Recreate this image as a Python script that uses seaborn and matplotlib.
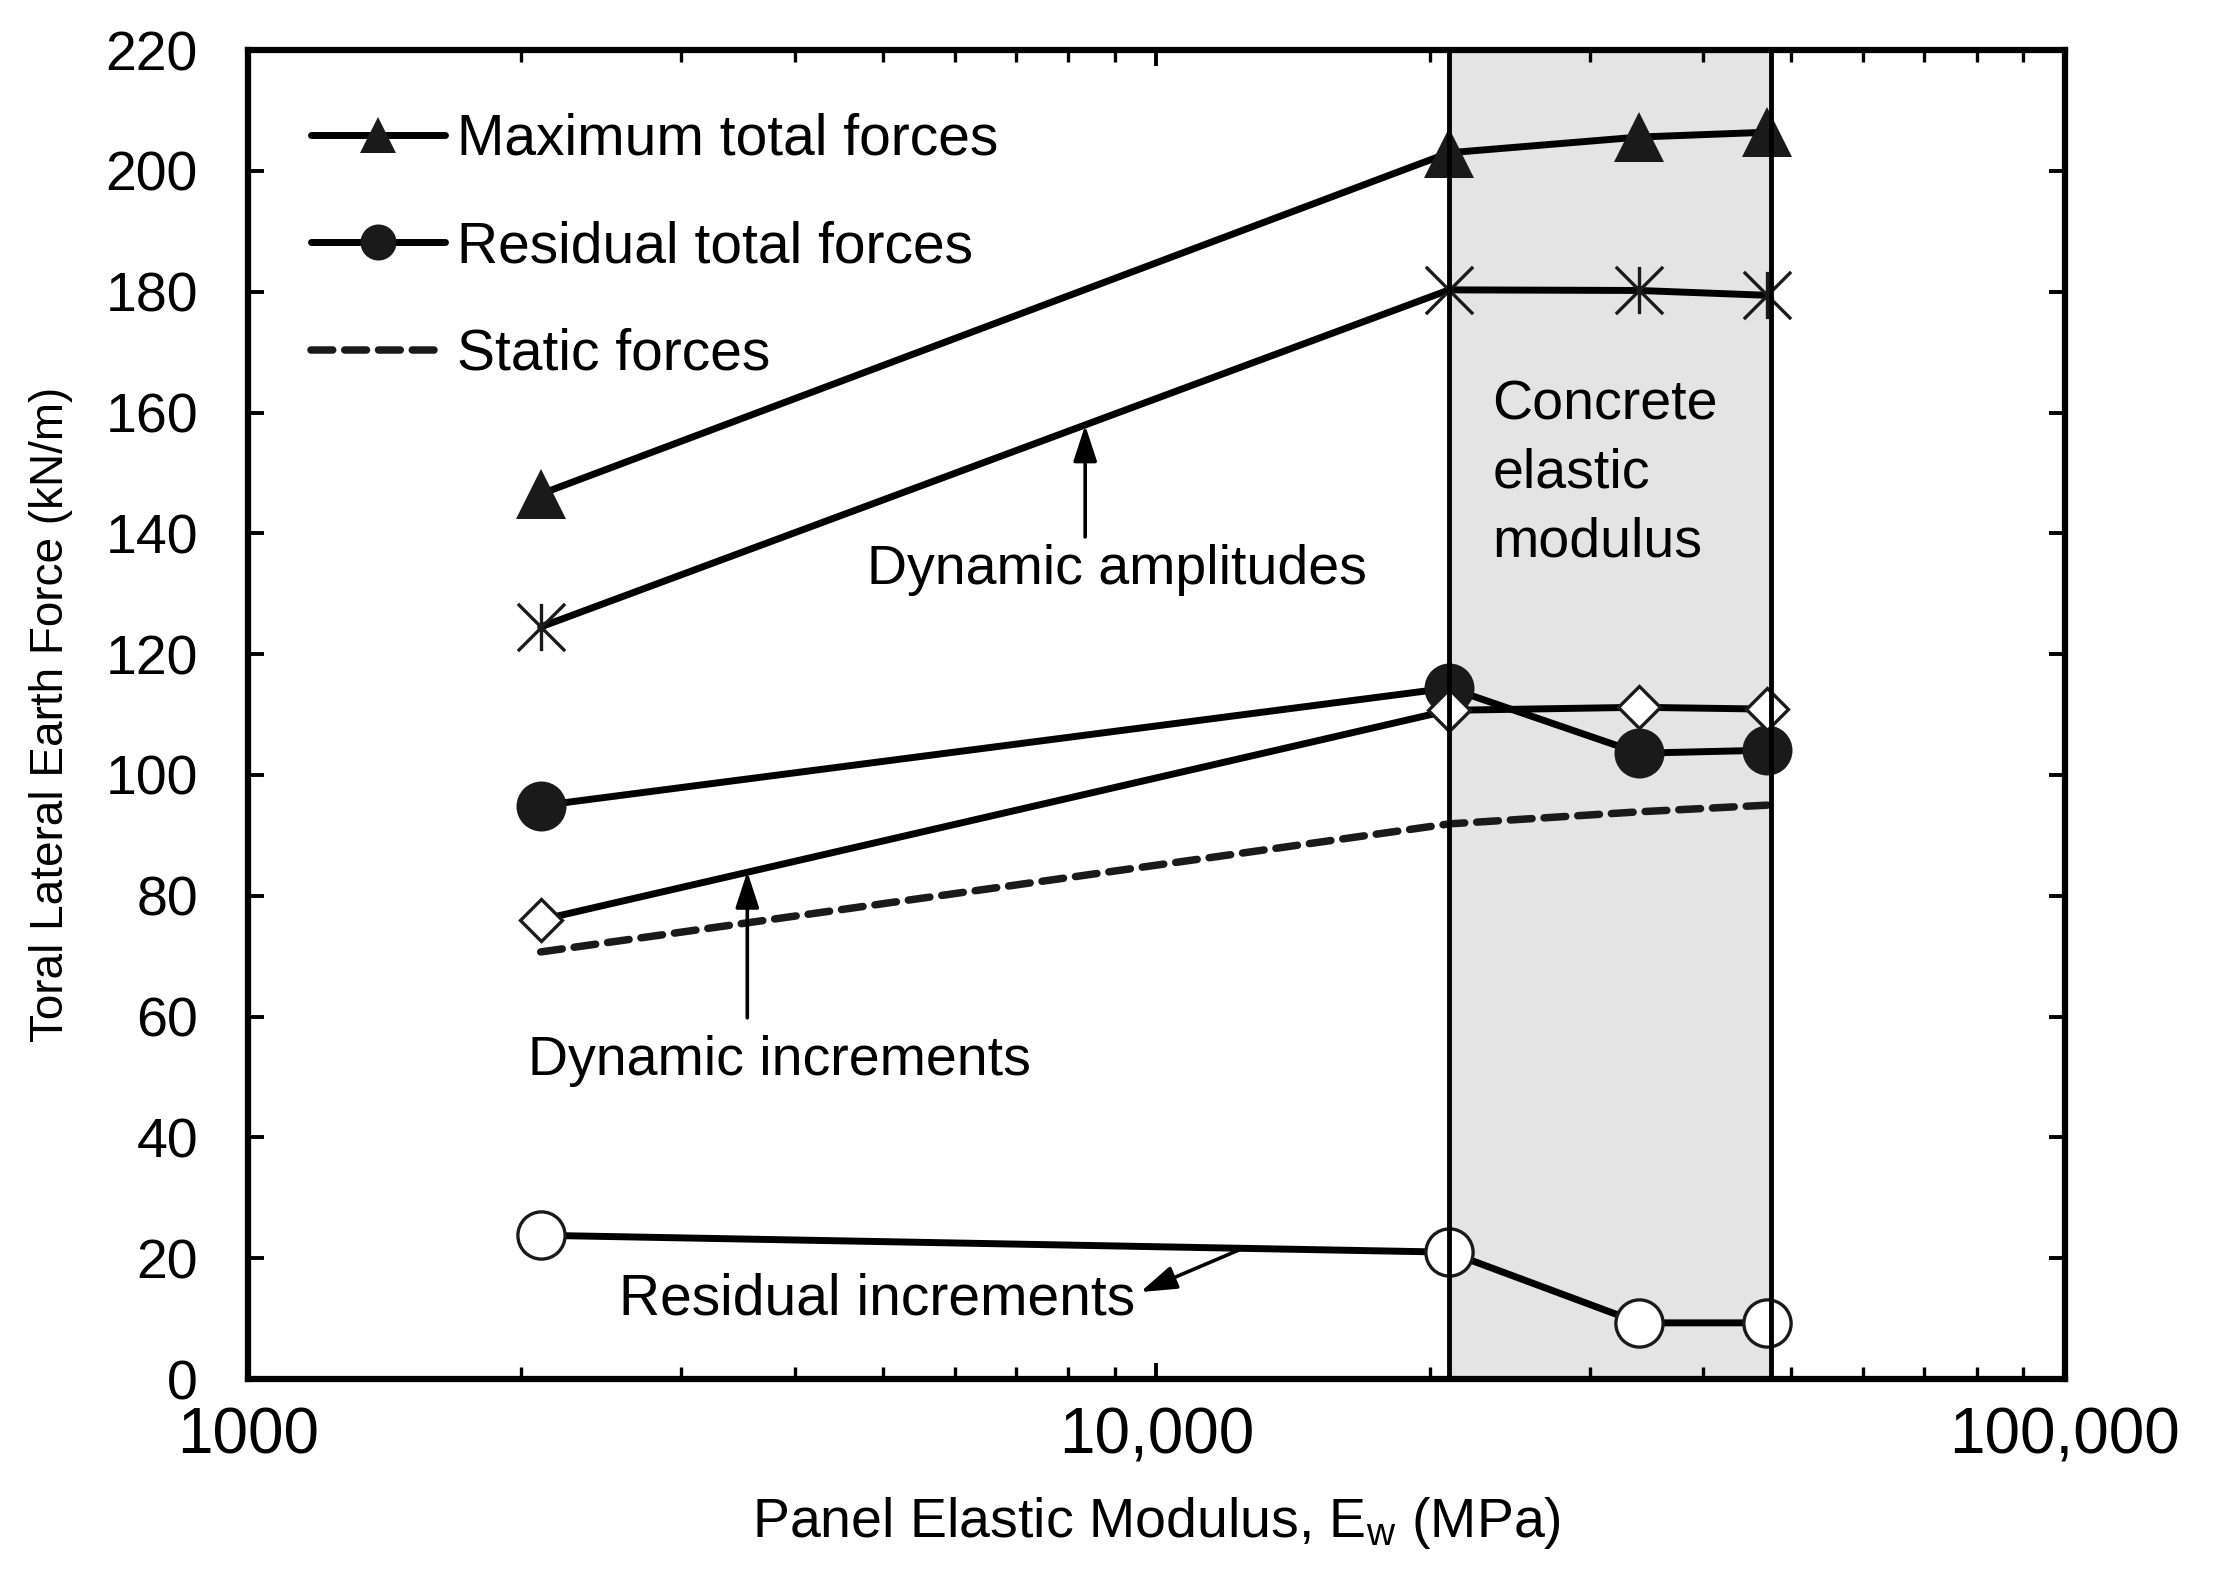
import numpy as np
import pandas as pd
import matplotlib
matplotlib.use("Agg")
import matplotlib.pyplot as plt
from matplotlib.path import Path
from matplotlib.ticker import LogLocator, NullFormatter, FixedLocator
import seaborn as sns

# ---------------- data ----------------
modulus = [2100, 21000, 34000, 47000]
max_total = [146.5, 203.0, 205.6, 206.4]
dyn_amp = [124.5, 180.3, 180.2, 179.4]
res_total = [94.9, 114.4, 103.6, 104.1]
dyn_inc = [76.0, 110.7, 111.2, 110.9]
static = [70.7, 91.9, 93.9, 95.0]
res_inc = [23.8, 21.0, 9.3, 9.3]

concrete_range = [21000, 47500]
x_ticks = [1000, 10000, 100000]
x_tick_labels = ["1000", "10,000", "100,000"]
y_ticks = list(range(0, 221, 20))

legend_labels = ["Maximum total forces", "Residual total forces", "Static forces"]

# ---------------- style ----------------
sns.set_style("ticks")
plt.rcParams["font.family"] = ["Liberation Sans", "DejaVu Sans"]
plt.rcParams["mathtext.fontset"] = "custom"
plt.rcParams["mathtext.rm"] = "Liberation Sans"
plt.rcParams["mathtext.it"] = "Liberation Sans"
for key in ["text.color", "axes.labelcolor", "xtick.color", "ytick.color", "axes.edgecolor"]:
    plt.rcParams[key] = "black"

fig = plt.figure(figsize=(22.18, 15.84), dpi=100)
ax = fig.add_axes([0.1118, 0.1294, 0.8192, 0.8390])

K = "#000000"
MK = "#1a1a1a"
LW = 5.0

ast_path = Path(
    [(-1, -1), (1, 1), (-1, 1), (1, -1), (0, -1), (0, 1)],
    [Path.MOVETO, Path.LINETO, Path.MOVETO, Path.LINETO, Path.MOVETO, Path.LINETO],
)

# shaded concrete region
ax.axvspan(concrete_range[0], concrete_range[1], facecolor="#e4e4e4",
           edgecolor="none", zorder=0)
ax.axvspan(concrete_range[0], concrete_range[1], facecolor="none",
           edgecolor=K, lw=3.5, zorder=6)

sns.lineplot(x=modulus, y=max_total, ax=ax, color=K, lw=LW, marker="^",
             markersize=36, markerfacecolor=MK, markeredgecolor=MK,
             markeredgewidth=0, label=legend_labels[0], legend=False, zorder=4)
sns.lineplot(x=modulus, y=dyn_amp, ax=ax, color=K, lw=LW, marker=ast_path,
             markersize=34, markerfacecolor="none", markeredgecolor=MK,
             markeredgewidth=2.4, legend=False, zorder=4)
sns.lineplot(x=modulus, y=res_total, ax=ax, color=K, lw=LW, marker="o",
             markersize=36, markerfacecolor=MK, markeredgecolor=MK,
             markeredgewidth=0, label=legend_labels[1], legend=False, zorder=4)
sns.lineplot(x=modulus, y=dyn_inc, ax=ax, color=K, lw=LW, marker="D",
             markersize=21, markerfacecolor="white", markeredgecolor=MK,
             markeredgewidth=2.4, legend=False, zorder=4)
sns.lineplot(x=modulus, y=static, ax=ax, color=MK, lw=5.4,
             linestyle=(0, (2.9, 1.6)), dash_capstyle="round",
             label=legend_labels[2], legend=False, zorder=3)
sns.lineplot(x=modulus, y=res_inc, ax=ax, color=K, lw=LW, marker="o",
             markersize=34, markerfacecolor="white", markeredgecolor=MK,
             markeredgewidth=2.4, legend=False, zorder=4)

# ---------------- axes ----------------
ax.set_xscale("log")
ax.set_xlim(1000, 100000)
ax.set_ylim(0, 220)
ax.xaxis.set_major_locator(FixedLocator(x_ticks))
ax.set_xticklabels(x_tick_labels)
ax.xaxis.set_minor_locator(LogLocator(base=10, subs=np.arange(2, 10)))
ax.xaxis.set_minor_formatter(NullFormatter())
ax.set_yticks(y_ticks)

for s in ax.spines.values():
    s.set_linewidth(4.5)
    s.set_color(K)
    s.set_visible(True)
    s.set_zorder(7)

ax.tick_params(which="major", direction="in", length=11.5, width=2.8,
               top=True, right=True, color=K, labelcolor=K)
ax.tick_params(which="minor", direction="in", length=8.5, width=2.4,
               top=True, right=True, color=K)
ax.tick_params(axis="x", which="major", labelsize=46, pad=20)
ax.tick_params(axis="y", which="major", labelsize=40, pad=36)

ax.set_xlabel("Panel Elastic Modulus, E$_{\\mathrm{w}}$ (MPa)", fontsize=40,
              labelpad=20, color=K)
ax.set_ylabel("Toral Lateral Earth Force (kN/m)", fontsize=33, labelpad=23, color=K)

# ---------------- legend ----------------
handles, labels = ax.get_legend_handles_labels()
ax.legend(handles, labels, loc="upper left", bbox_to_anchor=(0.0347, 0.953),
          frameon=False, fontsize=41, markerscale=0.72, handlelength=2.35,
          handletextpad=0.22, labelspacing=0.94, borderpad=0, borderaxespad=0,
          labelcolor=K)

# ---------------- annotations ----------------
aprops = dict(arrowstyle="-|>,head_length=0.55,head_width=0.18", lw=2.6,
              color=K, mutation_scale=40, shrinkA=0, shrinkB=0)

ax.text(9054, 131.6, "Dynamic amplitudes", fontsize=40, ha="center", va="baseline",
        color=K, zorder=8)
ax.annotate("", xy=(8347, 157.9), xytext=(8347, 139.4), arrowprops=aprops, zorder=8)

ax.text(3846, 50.3, "Dynamic increments", fontsize=40, ha="center", va="baseline",
        color=K, zorder=8)
ax.annotate("", xy=(3545, 84.0), xytext=(3545, 59.8), arrowprops=aprops, zorder=8)

ax.text(4930, 10.6, "Residual increments", fontsize=41, ha="center", va="baseline",
        color=K, zorder=8)
ax.annotate("", xy=(9600, 14.4), xytext=(12430, 21.6), arrowprops=aprops, zorder=8)

ax.text(23420, 165.5, "Concrete\nelastic\nmodulus", fontsize=40, ha="left", va="top",
        linespacing=1.41, color=K, zorder=8)

fig.savefig("out.png", dpi=100)
